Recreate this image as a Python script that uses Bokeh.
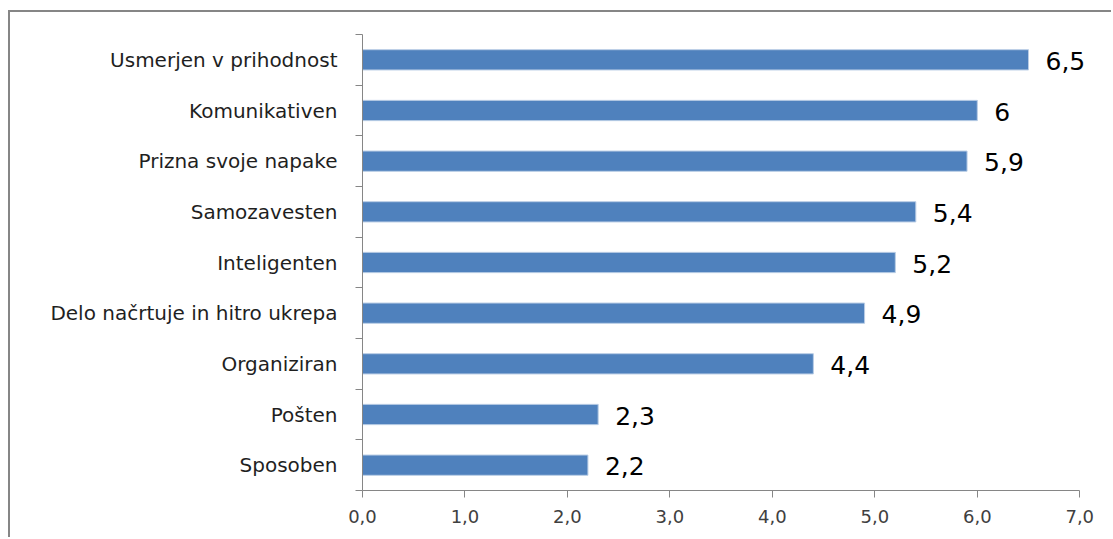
from bokeh.plotting import figure
from bokeh.models import ColumnDataSource, FixedTicker, Range1d, LabelSet
from bokeh.core.properties import value
from bokeh.embed import file_html
from bokeh.resources import INLINE

# Traits, listed top to bottom, with their mean scores
categories = ["Usmerjen v prihodnost", "Komunikativen", "Prizna svoje napake",
              "Samozavesten", "Inteligenten", "Delo načrtuje in hitro ukrepa",
              "Organiziran", "Pošten", "Sposoben"]
scores = [6.5, 6.0, 5.9, 5.4, 5.2, 4.9, 4.4, 2.3, 2.2]
score_labels = ["6,5", "6", "5,9", "5,4", "5,2", "4,9", "4,4", "2,3", "2,2"]
x_ticks = [0, 1, 2, 3, 4, 5, 6, 7]
x_tick_labels = ["0,0", "1,0", "2,0", "3,0", "4,0", "5,0", "6,0", "7,0"]

FONT = "DejaVu Sans"

n = len(categories)
# first category sits in the top band
ypos = [n - i - 0.5 for i in range(n)]

src = ColumnDataSource(dict(y=ypos, score=scores, label=score_labels, cat=categories))

# the frame runs a little past 7 so the value labels have room; the axis stops at 7
p = figure(width=1103, height=527, output_backend="svg", toolbar_location=None,
           x_range=Range1d(0, 7.3), y_range=Range1d(0, n),
           min_border_left=352, min_border_right=3,
           min_border_top=22, min_border_bottom=49)
p.margin = (10, 0, 0, 8)
p.styles = {"border-left": "2px solid #868686", "border-top": "2px solid #868686"}

p.outline_line_color = None
p.xgrid.visible = False
p.ygrid.visible = False
p.background_fill_color = "white"
p.border_fill_color = "white"

p.hbar(y="y", right="score", left=0, height=0.4, source=src,
       fill_color="#4F81BD", line_color="#B9CDE5", line_width=1)

labels = LabelSet(x="score", y="y", text="label", source=src, x_offset=17, y_offset=-1,
                  text_baseline="middle", text_align="left",
                  text_font=value(FONT), text_font_size=value("25px"),
                  text_color="black")
p.add_layout(labels)

axis_color = "#868686"

xa = p.xaxis[0]
xa.ticker = FixedTicker(ticks=x_ticks)
xa.bounds = (0, 7)
xa.major_label_overrides = {t: l for t, l in zip(x_ticks, x_tick_labels)}
xa.axis_line_color = axis_color
xa.major_tick_line_color = axis_color
xa.major_tick_in = 0
xa.major_tick_out = 7
xa.minor_tick_line_color = None
xa.major_label_text_font = FONT
xa.major_label_text_font_size = "18px"
xa.major_label_text_color = "#404040"
xa.major_label_standoff = 12

ya = p.yaxis[0]
ya.ticker = FixedTicker(ticks=ypos, minor_ticks=list(range(n + 1)))
ya.major_label_overrides = {y: c for y, c in zip(ypos, categories)}
ya.axis_line_color = axis_color
ya.major_tick_line_color = None
ya.major_tick_in = 0
ya.major_tick_out = 0
ya.minor_tick_line_color = axis_color
ya.minor_tick_in = 0
ya.minor_tick_out = 7
ya.major_label_text_font = FONT
ya.major_label_text_font_size = "20px"
ya.major_label_text_color = "#1f1f1f"
ya.major_label_standoff = 18

open("out.html", "w").write(file_html(p, INLINE))
